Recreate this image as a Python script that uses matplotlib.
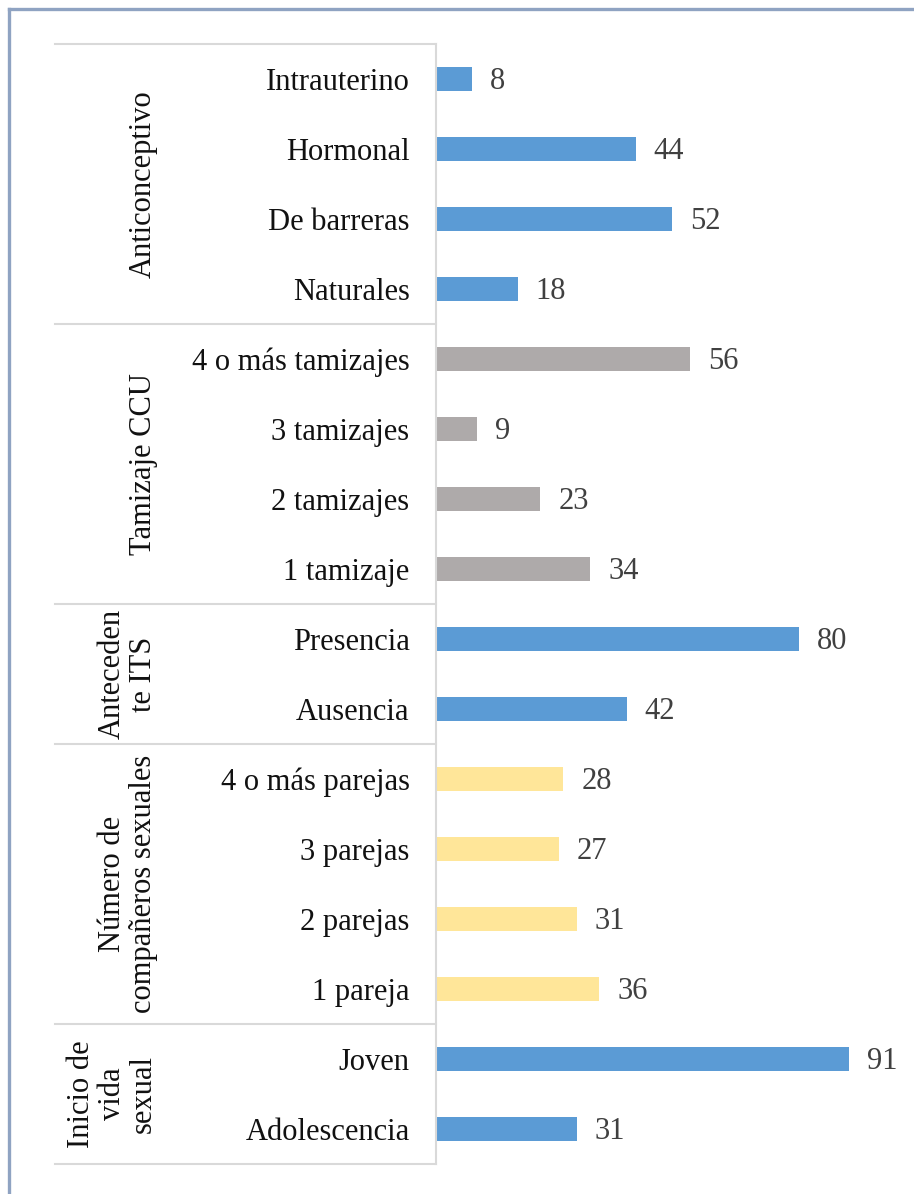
import matplotlib.pyplot as plt
from matplotlib.lines import Line2D

# Data, top to bottom
categories = ['Intrauterino', 'Hormonal', 'De barreras', 'Naturales',
              '4 o más tamizajes', '3 tamizajes', '2 tamizajes', '1 tamizaje',
              'Presencia', 'Ausencia',
              '4 o más parejas', '3 parejas', '2 parejas', '1 pareja',
              'Joven', 'Adolescencia']
values = [8, 44, 52, 18,
          56, 9, 23, 34,
          80, 42,
          28, 27, 31, 36,
          91, 31]
groups = ['Anticonceptivo', 'Tamizaje CCU', 'Anteceden\nte ITS',
          'Número de\ncompañeros sexuales', 'Inicio de\nvida\nsexual']
group_sizes = [4, 4, 2, 4, 2]
group_colors = ['#5B9BD5', '#AEAAAA', '#5B9BD5', '#FFE699', '#5B9BD5']

W, H = 914, 1194
FS = 22
plt.rcParams['font.family'] = ['Liberation Serif', 'DejaVu Serif']

fig = plt.figure(figsize=(W / 100, H / 100), dpi=100)
x0, y_top, y_bot = 436, 44, 1164
ax = fig.add_axes([x0 / W, 1 - y_bot / H, (W - x0) / W, (y_bot - y_top) / H])

colors = []
for c, n in zip(group_colors, group_sizes):
    colors += [c] * n

ypos = list(range(len(categories)))
ax.barh(ypos, values, height=0.35, color=colors)
for y, v in zip(ypos, values):
    ax.annotate(str(v), (v, y), xytext=(13, -2), textcoords='offset points',
                va='center', ha='left', fontsize=FS, color='#404040')

px_per_unit = (849 - x0) / 91
ax.set_xlim(0, (W - x0) / px_per_unit)
ax.set_ylim(len(categories) - 0.5, -0.5)
ax.set_yticks(ypos)
ax.set_yticklabels(categories, fontsize=FS, color='#111111')
ax.tick_params(axis='y', length=0, pad=19)
ax.set_xticks([])
for s in ['top', 'right', 'bottom']:
    ax.spines[s].set_visible(False)
ax.spines['left'].set_color('#D9D9D9')
ax.spines['left'].set_linewidth(1.5)

# group separators and labels
x_left = -(x0 - 55) / (W - x0)
trans = ax.get_yaxis_transform()
bounds = [-0.5]
for n in group_sizes:
    bounds.append(bounds[-1] + n)
for b in bounds:
    ax.plot([x_left, 0], [b, b], transform=trans, color='#D9D9D9', lw=1.5,
            clip_on=False)
x_lab = -(x0 - 158) / (W - x0)
for g, a, b in zip(groups, bounds[:-1], bounds[1:]):
    ax.text(x_lab, (a + b) / 2, g, transform=trans, rotation=90, ha='right',
            va='center', multialignment='center', fontsize=FS, color='#111111',
            linespacing=1.1)

# outer frame
fc = '#8FA3C2'
fig.add_artist(Line2D([9 / W, 9 / W], [0, 1 - 9 / H], color=fc, lw=2.4,
                      transform=fig.transFigure))
fig.add_artist(Line2D([9 / W, 1], [1 - 9 / H, 1 - 9 / H], color=fc, lw=2.4,
                      transform=fig.transFigure))

fig.savefig('out.png', dpi=100)
